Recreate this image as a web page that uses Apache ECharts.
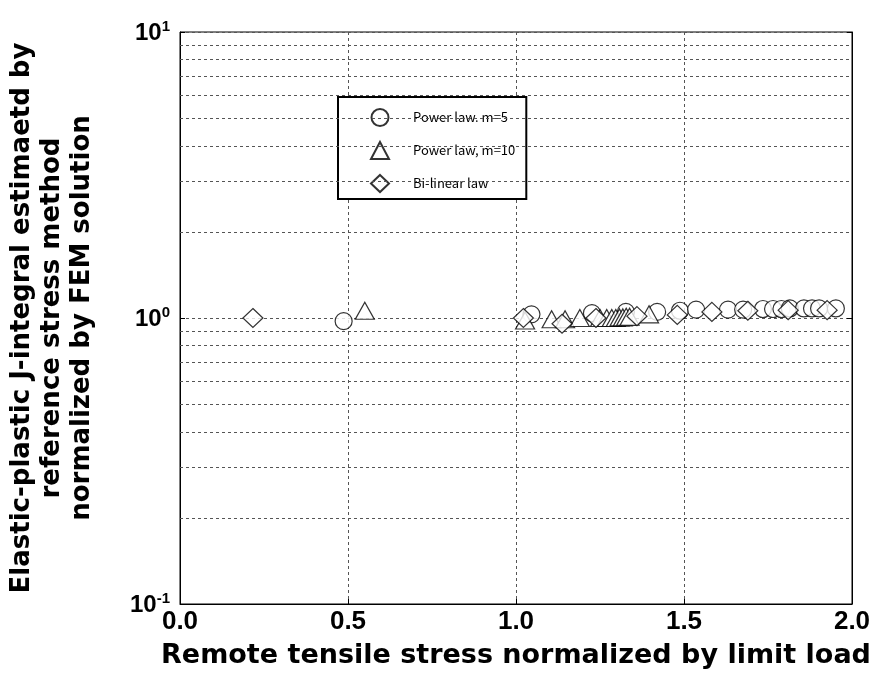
<!DOCTYPE html>
<html>
<head>
<meta charset="utf-8">
<script src="https://cdn.jsdelivr.net/npm/echarts@6/dist/echarts.min.js"></script>
<style>html,body{margin:0;padding:0;background:#fff;}#c{width:872px;height:678px;}</style>
</head>
<body>
<div id="c"></div>
<script>
// Power law, m=5 (circles)
const m5X = [0.487, 1.046, 1.226, 1.327, 1.42, 1.488, 1.536, 1.631, 1.676, 1.735, 1.765, 1.79, 1.815, 1.857, 1.881, 1.902, 1.952];
const m5Y = [0.975, 1.03, 1.04, 1.05, 1.05, 1.06, 1.07, 1.07, 1.07, 1.075, 1.075, 1.075, 1.08, 1.08, 1.08, 1.08, 1.08];
// Power law, m=10 (triangles)
const m10X = [0.55, 1.027, 1.106, 1.146, 1.19, 1.25, 1.27, 1.285, 1.297, 1.308, 1.318, 1.328, 1.338, 1.396];
const m10Y = [1.06, 0.98, 0.99, 0.99, 1.0, 1.0, 1.0, 1.0, 1.0, 1.005, 1.005, 1.01, 1.01, 1.03];
// Bi-linear law (diamonds)
const biX = [0.217, 1.022, 1.137, 1.238, 1.36, 1.48, 1.583, 1.69, 1.81, 1.926];
const biY = [1.0, 1.0, 0.955, 1.0, 1.015, 1.025, 1.05, 1.06, 1.065, 1.065];
// minor horizontal grid lines
const minorGrid = [0.2, 0.3, 0.4, 0.5, 0.6, 0.7, 0.8, 0.9, 2, 3, 4, 5, 6, 7, 8, 9];
const seriesNames = ['Power law. m=5', 'Power law, m=10', 'Bi-linear law'];
const xTitle = 'Remote tensile stress normalized by limit load';
const yTitle = 'Elastic-plastic J-integral estimaetd by\nreference stress method\nnormalized by FEM solution';

const pairs = (xs, ys) => xs.map((x, i) => [x, ys[i]]);
const dash = {color: '#555', type: [3, 3], width: 1};
const markerStyle = {color: '#fff', borderColor: '#000', borderWidth: 1.2};

const chart = echarts.init(document.getElementById('c'));
chart.setOption({
  animation: false,
  backgroundColor: '#fff',
  grid: {left: 180, right: 20, top: 32, bottom: 74, show: true, borderColor: '#000', borderWidth: 1,
    backgroundColor: 'transparent', containLabel: false, outerBoundsMode: 'none'},
  legend: {
    orient: 'vertical', left: 338, top: 97,
    borderColor: '#000', borderWidth: 2, backgroundColor: '#fff',
    padding: [11, 11, 6, 32], itemGap: 14, itemWidth: 18, itemHeight: 17,
    textStyle: {fontFamily: 'Noto Sans CJK JP', fontSize: 13, color: '#000', padding: [0, 0, 0, 19]},
    data: seriesNames
  },
  xAxis: {
    type: 'value', min: 0, max: 2, interval: 0.5,
    name: xTitle, nameLocation: 'middle', nameGap: 38,
    nameTextStyle: {fontFamily: 'DejaVu Sans', fontWeight: 'bold', fontSize: 27, color: '#000'},
    axisLine: {show: true, lineStyle: {color: '#000'}},
    axisTick: {show: true, inside: true, length: 5, lineStyle: {color: '#000'}},
    axisLabel: {fontFamily: 'Liberation Sans', fontWeight: 'bold', fontSize: 26, color: '#000', margin: 5,
      formatter: v => v.toFixed(1)},
    splitLine: {show: true, lineStyle: dash}
  },
  yAxis: [{
    type: 'log', logBase: 10, min: 0.1, max: 10,
    name: yTitle, nameLocation: 'middle', nameGap: 83, nameRotate: 90,
    nameTextStyle: {fontFamily: 'DejaVu Sans', fontWeight: 'bold', fontSize: 26, color: '#000', lineHeight: 30, align: 'center'},
    axisLine: {show: true, lineStyle: {color: '#000'}},
    axisTick: {show: true, inside: true, length: 5, lineStyle: {color: '#000'}},
    axisLabel: {
      margin: 10,
      formatter: v => {
        const e = Math.round(Math.log10(v));
        return '{b|10}{s|' + e + '}';
      },
      rich: {
        b: {fontFamily: 'Liberation Sans', fontWeight: 'bold', fontSize: 24, color: '#000', lineHeight: 26, verticalAlign: 'bottom'},
        s: {fontFamily: 'Liberation Sans', fontWeight: 'bold', fontSize: 15, color: '#000', verticalAlign: 'top'}
      }
    },
    splitLine: {show: true, lineStyle: dash}
  }, {
    type: 'log', logBase: 10, min: 0.1, max: 10, position: 'right',
    axisLine: {show: true, lineStyle: {color: '#000'}},
    axisTick: {show: true, inside: true, length: 5, lineStyle: {color: '#000'}},
    axisLabel: {show: false}, splitLine: {show: false}
  }],
  series: [
    {
      name: seriesNames[0], type: 'scatter', symbol: 'circle', symbolSize: 17,
      itemStyle: markerStyle, data: pairs(m5X, m5Y), z: 3,
      markLine: {
        silent: true, symbol: 'none', label: {show: false},
        lineStyle: dash, animation: false,
        data: minorGrid.map(v => ({yAxis: v}))
      }
    },
    {
      name: seriesNames[1], type: 'scatter', symbol: 'triangle', symbolSize: [19, 17],
      itemStyle: markerStyle, data: pairs(m10X, m10Y), z: 4
    },
    {
      name: seriesNames[2], type: 'scatter', symbol: 'diamond', symbolSize: [20, 19],
      itemStyle: markerStyle, data: pairs(biX, biY), z: 5
    }
  ]
});
</script>
</body>
</html>
